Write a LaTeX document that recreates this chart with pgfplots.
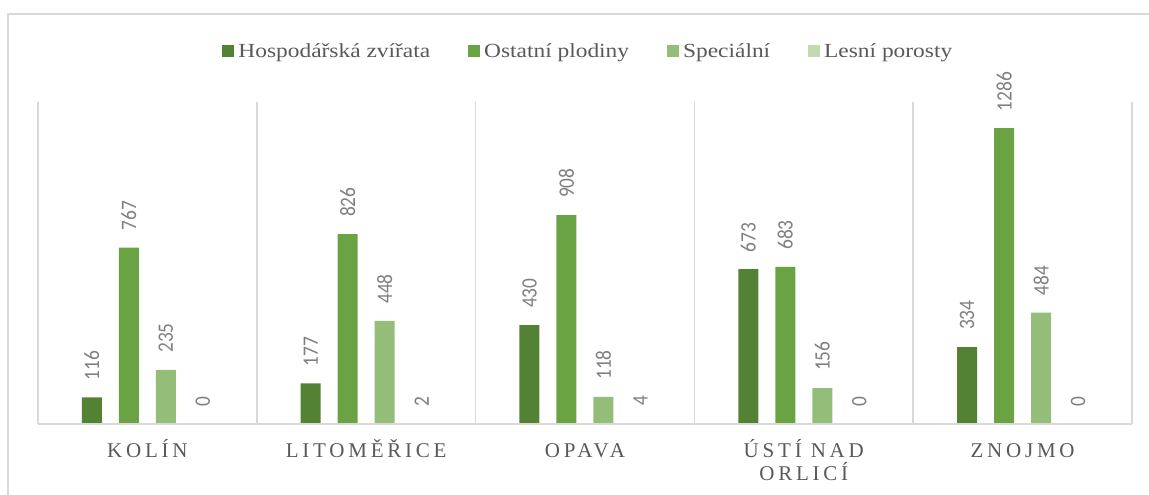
\documentclass[border=0pt]{standalone}
\usepackage{pgfplots}
\pgfplotsset{compat=1.18}
\usepackage{fontspec}
\setmainfont{Liberation Serif}
\newfontfamily\legfont[FakeStretch=1.17]{Liberation Serif}
\newfontfamily\catfont[LetterSpace=18]{Liberation Serif}
\newfontfamily\lblfont[FakeStretch=0.88]{Carlito}
\definecolor{cA}{HTML}{548235}
\definecolor{cB}{HTML}{6AA343}
\definecolor{cC}{HTML}{93BD78}
\definecolor{cD}{HTML}{C1DAB1}
\definecolor{gridc}{HTML}{D9D9D9}
\definecolor{txt}{HTML}{595959}
\definecolor{lbl}{HTML}{7F7F7F}
\pgfplotsset{sq/.style={legend image code/.code={\fill[##1,draw=none] (0pt,-6pt) rectangle (12pt,6pt);}}}
\begin{document}
\begin{tikzpicture}[x=1pt,y=1pt]
\useasboundingbox (0,0) rectangle (1149,495);
\draw[gridc, line width=1.5pt] (8,-5) -- (8,481) -- (1160,481);
\begin{axis}[
  at={(38pt,71pt)}, anchor=south west,
  scale only axis, width=1094pt, height=322pt,
  xmin=-0.5, xmax=4.5, ymin=0, ymax=1400,
  axis line style={draw=none},
  ytick=\empty,
  xtick={0,1,2,3,4},
  xticklabels={\vphantom{Í}KOLÍN, \vphantom{Í}LITOMĚŘICE, \vphantom{Í}OPAVA, ÚSTÍ NAD\\ORLICÍ, \vphantom{Í}ZNOJMO},
  major tick length=0pt, minor tick length=0pt,
  minor xtick={-0.5,0.5,1.5,2.5,3.5,4.5},
  xminorgrids=true,
  minor grid style={gridc, line width=1.5pt},
  xticklabel style={font=\catfont\fontsize{21}{23}\selectfont, text=txt, align=center, anchor=north, inner sep=0pt, yshift=-15pt},
  ybar=17pt, bar width=20pt,
  nodes near coords,
  /pgf/number format/assume math mode=true,
  /pgf/number format/1000 sep={},
  every node near coord/.append style={yshift=17pt, rotate=90, anchor=west, inner sep=0pt, font=\lblfont\fontsize{22}{22}\selectfont, text=lbl},
  clip=false,
  legend style={at={(0.504,1.158)}, anchor=center, draw=none, fill=none,
    font=\legfont\fontsize{20}{24}\selectfont, text=txt,
    legend columns=4, nodes={inner sep=4pt},
    /tikz/every even column/.append style={column sep=34pt}},
]
\addplot[fill=cA, draw=none, sq] coordinates {(0,116) (1,177) (2,430) (3,673) (4,334)};
\addplot[fill=cB, draw=none, sq] coordinates {(0,767) (1,826) (2,908) (3,683) (4,1286)};
\addplot[fill=cC, draw=none, sq] coordinates {(0,235) (1,448) (2,118) (3,156) (4,484)};
\addplot[fill=cD, draw=none, sq] coordinates {(0,0) (1,2) (2,4) (3,0) (4,0)};
\legend{Hospodářská zvířata, Ostatní plodiny, Speciální, Lesní porosty}
\draw[gridc, line width=1.5pt] (axis cs:-0.5,0) -- (axis cs:4.5,0);
\end{axis}
\end{tikzpicture}
\end{document}
